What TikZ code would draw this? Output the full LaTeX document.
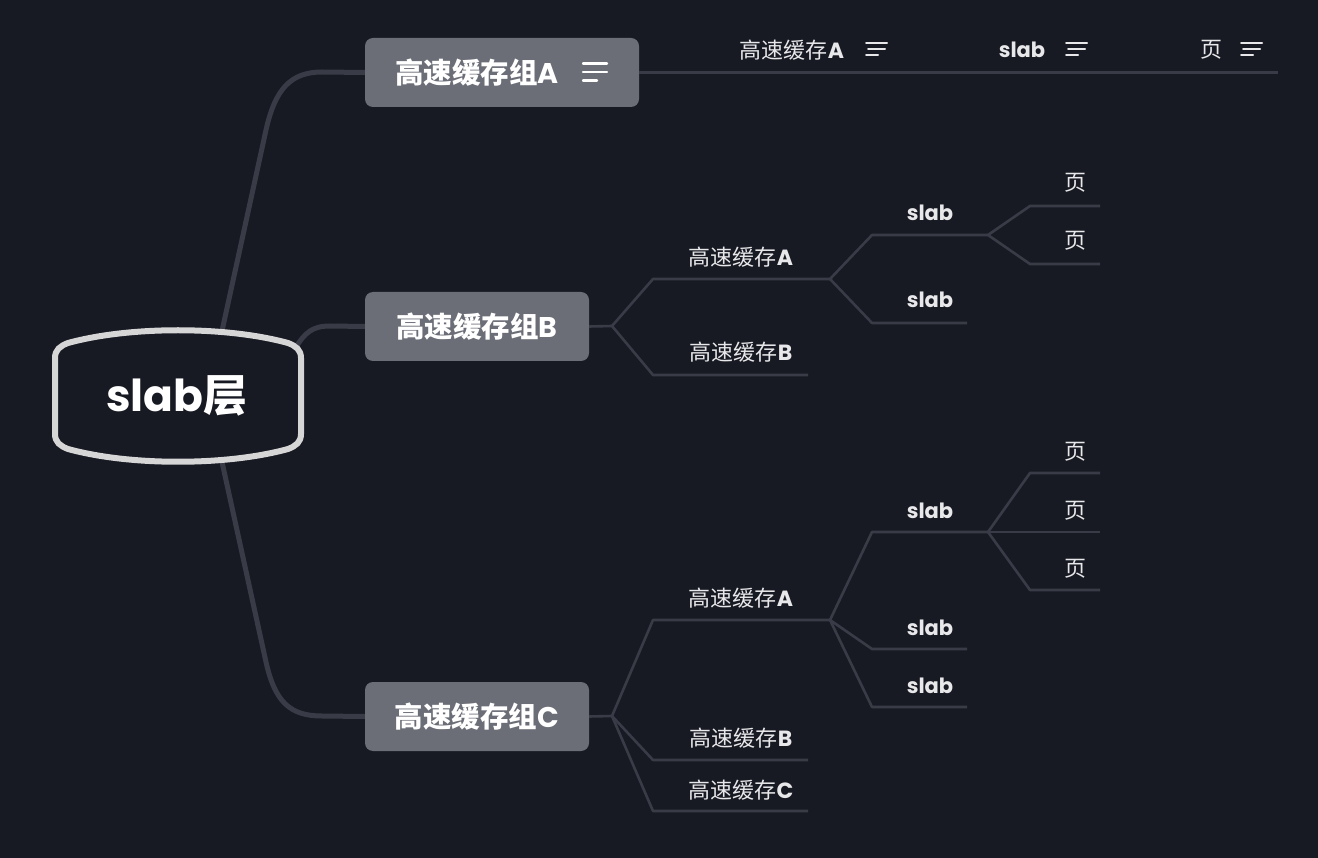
\documentclass[tikz,border=0pt]{standalone}
\usepackage{fontspec}
\setmainfont{Poppins}
\newfontfamily\cjk{Noto Sans CJK SC}
\newcommand\zh[1]{{\cjk #1}}
\definecolor{bg}{HTML}{171923}
\definecolor{edgec}{HTML}{393B46}
\definecolor{boxfill}{HTML}{6B6D77}
\definecolor{rimc}{HTML}{D6D6D6}
\definecolor{txt}{HTML}{E8E8EA}
\pgfdeclarelayer{bottom}
\pgfdeclarelayer{behind}
\pgfsetlayers{bottom,behind,main}
\begin{document}
\begin{tikzpicture}[x=1pt,y=-1pt,
  trunk/.style={draw=edgec,line width=5pt,line cap=round,line join=round},
  twig/.style={draw=edgec,line width=2.6pt,line join=round},
  groupbox/.style={fill=boxfill,rounded corners=8pt,inner sep=0pt},
  grouptext/.style={text=white,font=\fontsize{28.5}{32}\selectfont\bfseries,inner sep=0pt},
  leaftext/.style={text=txt,font=\fontsize{22}{25}\selectfont,inner sep=0pt},
  boldleaf/.style={text=txt,font=\fontsize{21}{24}\selectfont\bfseries,inner sep=0pt},
  menuicon/.style={draw=#1,line width=2.4pt,line cap=round}
]
\begin{pgfonlayer}{bottom}
\fill[bg] (0,0) rectangle (1318,858);
\end{pgfonlayer}
\useasboundingbox (0,0) rectangle (1318,858);

% ---------- group boxes ----------
\node[groupbox,minimum width=274pt,minimum height=69pt] (gA) at (502,72.5) {};
\node[groupbox,minimum width=224pt,minimum height=69pt] (gB) at (477,326.5) {};
\node[groupbox,minimum width=224pt,minimum height=69pt] (gC) at (477,716.5) {};

% ---------- root ----------
\draw[rimc,line width=6pt,fill=bg]
  (55,358) -- (55,434) .. controls (55,442) and (60,446) .. (68,449)
  .. controls (130,466) and (226,466) .. (288,449)
  .. controls (296,446) and (301,442) .. (301,434) -- (301,358)
  .. controls (301,350) and (296,346) .. (288,343)
  .. controls (226,326) and (130,326) .. (68,343)
  .. controls (60,346) and (55,350) .. (55,358) -- cycle;
\node[text=white,font=\fontsize{44}{50}\selectfont\bfseries,inner sep=0pt] (root) at (177,396) {slab\zh{层}};
\coordinate (rA) at (222,331);
\coordinate (rB) at (296,347);
\coordinate (rC) at (222,462);

% ---------- root connectors (behind root and boxes) ----------
\begin{pgfonlayer}{behind}
\draw[trunk] (rA) -- (266,130) .. controls (275,90) and (290,72) .. (322,72) -- (gA.west);
\draw[trunk] (rB) .. controls (305,333) and (312,326) .. (330,326) -- (gB.west);
\draw[trunk] (rC) -- (266,662) .. controls (275,702) and (290,716) .. (322,716) -- (gC.west);
\end{pgfonlayer}

% ---------- group texts ----------
\node[grouptext] (tA) at (477,73) {\zh{高速缓存组}A};
\node[grouptext] (tB) at (477,327) {\zh{高速缓存组}B};
\node[grouptext] (tC) at (477,717) {\zh{高速缓存组}C};
\draw[menuicon=white] (583,63.5) -- (607,63.5) (583,72) -- (607,72) (583,80.5) -- (597,80.5);

% ---------- group A (collapsed row) ----------
\coordinate (topEnd) at (1278,72.5);
\draw[twig] (gA.east) -- (topEnd);
\node[leaftext] (a1) at (792,50) {\zh{高速缓存}\textbf{A}};
\node[boldleaf] (a2) at (1022,50) {slab};
\node[leaftext] (a3) at (1211,50) {\zh{页}};
\foreach \ix in {866,1066,1241}{
  \draw[menuicon=txt,line width=2pt] (\ix,43) -- (\ix+21,43) (\ix+2,49) -- (\ix+19,49) (\ix,55) -- (\ix+12,55);
}

% ---------- group B ----------
\coordinate (fB) at (612,326);
\draw[twig] (gB.east) -- (fB);
\coordinate (bAs) at (653,279); \coordinate (bAe) at (830,279);
\coordinate (bBs) at (653,375); \coordinate (bBe) at (808,375);
\draw[twig] (fB) -- (bAs) -- (bAe);
\draw[twig] (fB) -- (bBs) -- (bBe);
\node[leaftext] (bA) at (741,257) {\zh{高速缓存}\textbf{A}};
\node[leaftext] (bB) at (741,352) {\zh{高速缓存}\textbf{B}};
\coordinate (bS1s) at (872,235); \coordinate (bS1e) at (988,235);
\coordinate (bS2s) at (872,323); \coordinate (bS2e) at (967,323);
\draw[twig] (bAe) -- (bS1s) -- (bS1e);
\draw[twig] (bAe) -- (bS2s) -- (bS2e);
\node[boldleaf] (bS1) at (930,213) {slab};
\node[boldleaf] (bS2) at (930,300) {slab};
\coordinate (bP1s) at (1030,206); \coordinate (bP1e) at (1100,206);
\coordinate (bP2s) at (1030,264); \coordinate (bP2e) at (1100,264);
\draw[twig] (bS1e) -- (bP1s) -- (bP1e);
\draw[twig] (bS1e) -- (bP2s) -- (bP2e);
\node[leaftext] (bP1) at (1075,183) {\zh{页}};
\node[leaftext] (bP2) at (1075,241) {\zh{页}};

% ---------- group C ----------
\coordinate (fC) at (612,716);
\draw[twig] (gC.east) -- (fC);
\coordinate (cAs) at (653,620); \coordinate (cAe) at (830,620);
\coordinate (cBs) at (653,760); \coordinate (cBe) at (808,760);
\coordinate (cCs) at (653,811); \coordinate (cCe) at (808,811);
\draw[twig] (fC) -- (cAs) -- (cAe);
\draw[twig] (fC) -- (cBs) -- (cBe);
\draw[twig] (fC) -- (cCs) -- (cCe);
\node[leaftext] (cA) at (741,598) {\zh{高速缓存}\textbf{A}};
\node[leaftext] (cB) at (741,738) {\zh{高速缓存}\textbf{B}};
\node[leaftext] (cC) at (741,790) {\zh{高速缓存}\textbf{C}};
\coordinate (cS1s) at (872,532); \coordinate (cS1e) at (988,532);
\coordinate (cS2s) at (872,649); \coordinate (cS2e) at (967,649);
\coordinate (cS3s) at (872,707); \coordinate (cS3e) at (967,707);
\draw[twig] (cAe) -- (cS1s) -- (cS1e);
\draw[twig] (cAe) -- (cS2s) -- (cS2e);
\draw[twig] (cAe) -- (cS3s) -- (cS3e);
\node[boldleaf] (cS1) at (930,511) {slab};
\node[boldleaf] (cS2) at (930,628) {slab};
\node[boldleaf] (cS3) at (930,686) {slab};
\coordinate (cP1s) at (1030,473); \coordinate (cP1e) at (1100,473);
\coordinate (cP2e) at (1100,532);
\coordinate (cP3s) at (1030,590); \coordinate (cP3e) at (1100,590);
\draw[twig] (cS1e) -- (cP1s) -- (cP1e);
\draw[twig] (cS1e) -- (cP2e);
\draw[twig] (cS1e) -- (cP3s) -- (cP3e);
\node[leaftext] (cP1) at (1075,452) {\zh{页}};
\node[leaftext] (cP2) at (1075,511) {\zh{页}};
\node[leaftext] (cP3) at (1075,569) {\zh{页}};
\end{tikzpicture}
\end{document}
